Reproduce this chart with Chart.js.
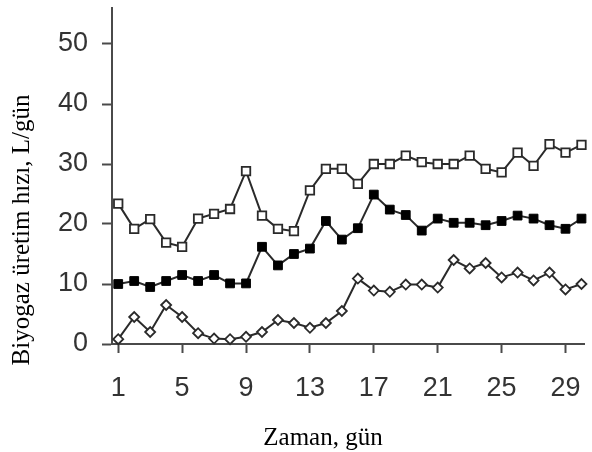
<!DOCTYPE html>
<html>
<head>
<meta charset="utf-8">
<script src="https://cdn.jsdelivr.net/npm/chart.js@4/dist/chart.umd.min.js"></script>
<style>
  html, body { margin: 0; padding: 0; background: #fff; }
</style>
</head>
<body>
<canvas id="biogasChart" width="592" height="452"></canvas>
<script>
// gunler (x ekseni)
const gunler = [1, 2, 3, 4, 5, 6, 7, 8, 9, 10, 11, 12, 13, 14, 15, 16, 17, 18, 19, 20,
                21, 22, 23, 24, 25, 26, 27, 28, 29, 30];
const xEtiketleri = [1, 5, 9, 13, 17, 21, 25, 29];

// ust seri - bos kare
const seriUst = [23.4, 19.2, 20.8, 16.9, 16.2, 20.9, 21.7, 22.5, 28.8, 21.4,
                 19.2, 18.8, 25.6, 29.2, 29.2, 26.7, 30.0, 30.0, 31.4, 30.3,
                 30.0, 30.0, 31.4, 29.2, 28.6, 31.9, 29.7, 33.3, 31.9, 33.2];
// orta seri - dolu kare
const seriOrta = [10.0, 10.5, 9.5, 10.5, 11.5, 10.5, 11.5, 10.1, 10.1, 16.2,
                  13.1, 15.0, 15.9, 20.5, 17.4, 19.3, 24.9, 22.4, 21.5, 18.9,
                  20.9, 20.2, 20.2, 19.8, 20.5, 21.4, 20.9, 19.8, 19.2, 20.9];
// alt seri - bos baklava
const seriAlt = [0.8, 4.5, 2.0, 6.5, 4.5, 1.8, 0.9, 0.8, 1.2, 2.0,
                 4.0, 3.5, 2.7, 3.5, 5.5, 10.9, 8.9, 8.7, 9.9, 9.9,
                 9.4, 14.0, 12.6, 13.5, 11.1, 11.9, 10.6, 11.9, 9.1, 10.0];

const eksenRenk = '#4a4a4a';
const yaziRenk = '#333';
const cizgiRenk = '#2a2a2a';

const nokta = (arr) => arr.map((v, i) => ({ x: gunler[i], y: v }));

const ctx = document.getElementById('biogasChart').getContext('2d');

// x ekseni basligi
const xBaslik = {
    id: 'xBaslik',
    afterDraw(chart) {
        const c = chart.ctx;
        c.save();
        c.font = '25px "Liberation Serif", "Times New Roman", serif';
        c.fillStyle = '#000';
        c.textAlign = 'center';
        c.textBaseline = 'middle';
        c.fillText('Zaman, gün', 323, 438);
        c.restore();
    }
};

new Chart(ctx, {
    type: 'line',
    data: {
        datasets: [{
            data: nokta(seriUst),
            borderColor: cizgiRenk,
            borderWidth: 2,
            pointStyle: 'rect',
            pointRadius: 6,
            pointBorderWidth: 1.8,
            pointBackgroundColor: '#fff',
            pointBorderColor: cizgiRenk,
            fill: false,
            tension: 0
        }, {
            data: nokta(seriOrta),
            borderColor: cizgiRenk,
            borderWidth: 2,
            pointStyle: 'rect',
            pointRadius: 6.2,
            pointBorderWidth: 1,
            pointBackgroundColor: '#000',
            pointBorderColor: '#000',
            fill: false,
            tension: 0
        }, {
            data: nokta(seriAlt),
            borderColor: cizgiRenk,
            borderWidth: 2,
            pointStyle: 'rectRot',
            pointRadius: 5,
            pointBorderWidth: 1.8,
            pointBackgroundColor: '#fff',
            pointBorderColor: cizgiRenk,
            fill: false,
            tension: 0
        }]
    },
    options: {
        responsive: false,
        animation: false,
        clip: false,
        layout: { padding: { top: 8, right: 0, bottom: 0, left: 0 } },
        plugins: {
            legend: { display: false },
            tooltip: { enabled: false },
            title: {
                display: true,
                position: 'left',
                text: 'Biyogaz üretim hızı, L/gün',
                color: '#000',
                font: { family: '"Liberation Serif", "Times New Roman", serif', size: 25, weight: 'normal', lineHeight: 1.2 },
                padding: { top: 7, bottom: 0 }
            }
        },
        scales: {
            x: {
                type: 'linear',
                min: 0.61,
                max: 30.17,
                afterBuildTicks: (scale) => { scale.ticks = xEtiketleri.map(v => ({ value: v })); },
                afterFit: (scale) => { scale.height = 108; scale.paddingLeft = 0; scale.paddingRight = 0; },
                grid: { drawOnChartArea: false, drawTicks: true, tickLength: 9, tickWidth: 2, tickColor: eksenRenk },
                border: { display: true, color: eksenRenk, width: 2 },
                ticks: {
                    autoSkip: false,
                    maxRotation: 0,
                    padding: 19,
                    color: yaziRenk,
                    font: { family: '"Liberation Sans", Arial, sans-serif', size: 27, lineHeight: 1.2 }
                }
            },
            y: {
                min: 0,
                max: 56,
                afterFit: (scale) => { scale.width = 75; scale.paddingTop = 0; scale.paddingBottom = 0; },
                grid: { drawOnChartArea: false, drawTicks: true, tickLength: 10, tickWidth: 2, tickColor: eksenRenk },
                border: { display: true, color: eksenRenk, width: 2 },
                ticks: {
                    stepSize: 10,
                    includeBounds: false,
                    padding: 14,
                    color: yaziRenk,
                    font: { family: '"Liberation Sans", Arial, sans-serif', size: 27, lineHeight: 1.2 }
                }
            }
        }
    },
    plugins: [xBaslik]
});
</script>
</body>
</html>
